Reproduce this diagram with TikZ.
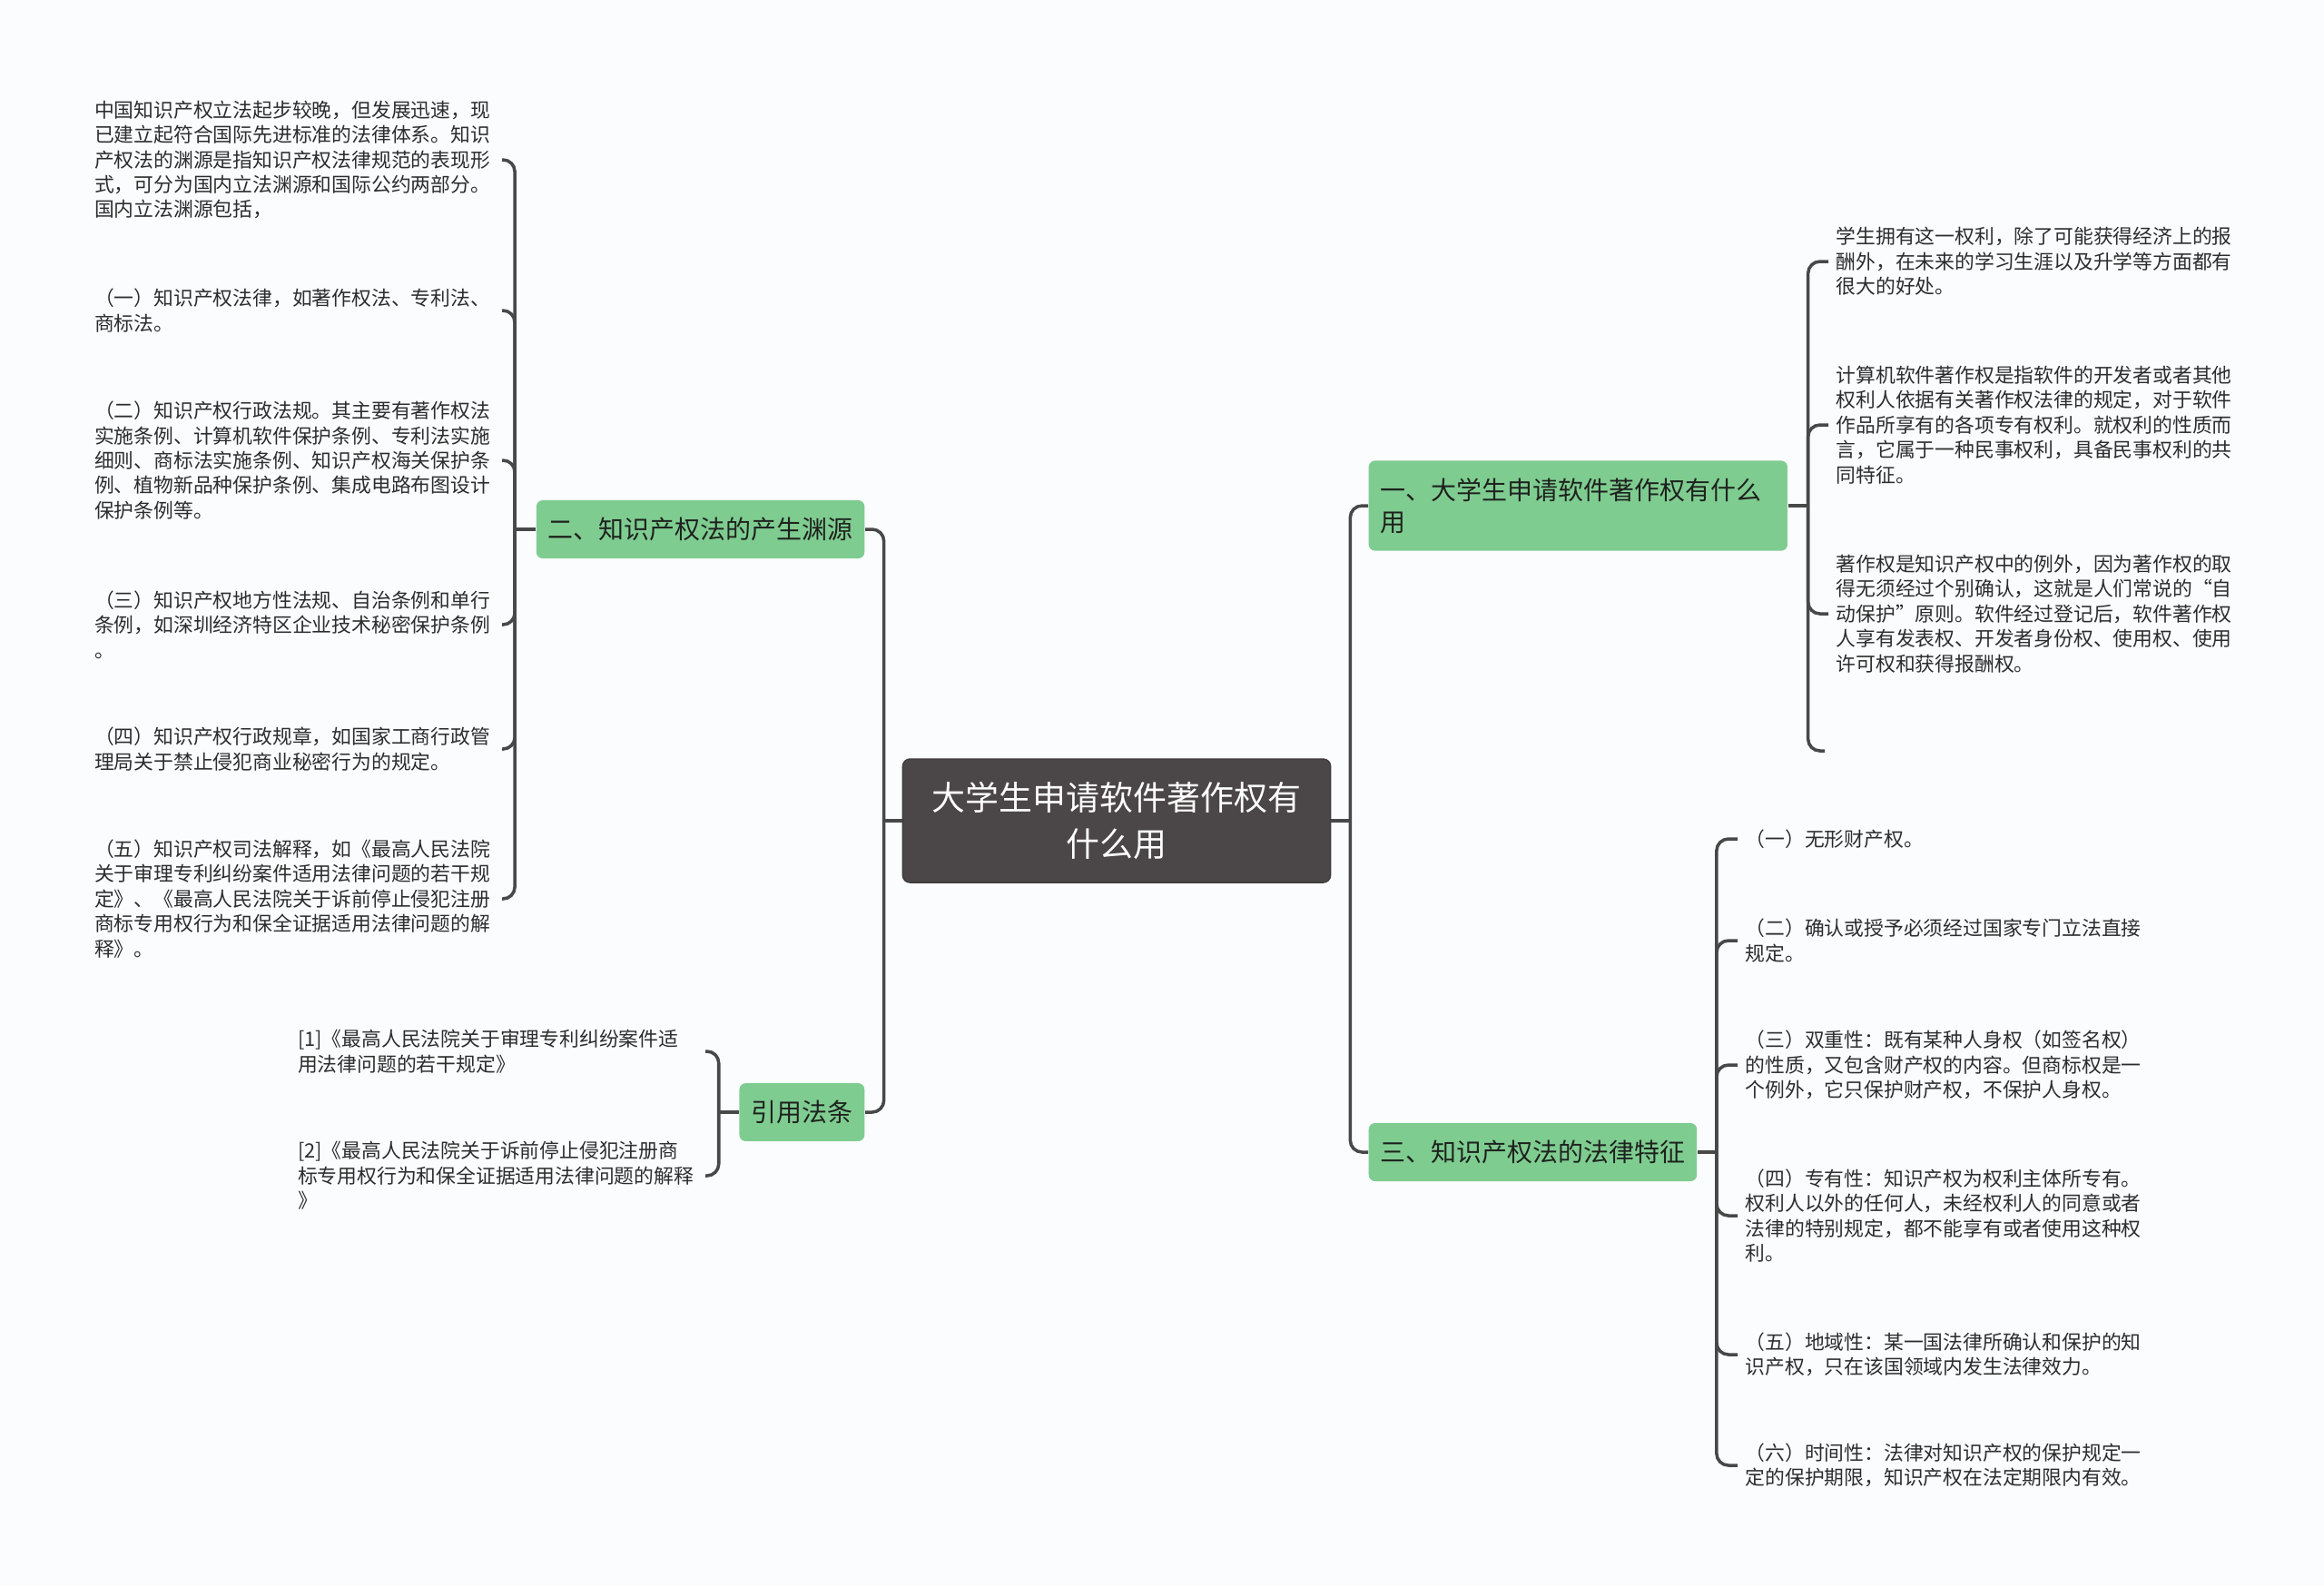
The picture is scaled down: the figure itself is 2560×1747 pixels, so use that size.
\documentclass[tikz,border=0pt]{standalone}
\usepackage{fontspec}
\setmainfont{Noto Sans CJK SC}
\definecolor{rootGray}{RGB}{75,70,71}
\definecolor{topicGreen}{RGB}{127,204,145}
\definecolor{topicText}{RGB}{30,34,30}
\definecolor{leafInk}{RGB}{45,45,45}
\definecolor{lineGray}{RGB}{72,72,72}
\definecolor{paperTint}{RGB}{250,252,254}

\begin{document}
\begin{tikzpicture}[
    x=0.01cm, y=-0.01cm,
    % Connector from a node to its bracket spine
    bracketline/.style={draw=lineGray, line width=1pt,
                        rounded corners=0.13cm},
    % Central topic
    rootbox/.style={
        rectangle, rounded corners=0.08cm,
        draw=rootGray!85!black, fill=rootGray, line width=0.4pt,
        text=white, align=center,
        minimum width=4.71cm, minimum height=1.36cm,
        font=\fontsize{10.5}{14.7}\selectfont, inner sep=0pt
    },
    % Green first-level topic
    topicbox/.style={
        rectangle, rounded corners=0.07cm,
        fill=topicGreen, text=topicText,
        font=\fontsize{7.95}{10}\selectfont,
        inner xsep=0.13cm, inner ysep=0.19cm
    },
    % Plain text block at the end of a bracket
    leaftext/.style={
        text width=4.4cm, align=left, text=leafInk,
        font=\fontsize{6.2}{7.8}\selectfont,
        inner xsep=0.08cm, inner ysep=0.02cm
    }
]
\fill[paperTint] (0,0) rectangle (2560,1747);
% ── CENTRE ────────────────────────────────────────────────────
\node[rootbox] (root) at (1230,904) {大学生申请软件著作权有\\什么用};
% ── LEFT SIDE: topics ─────────────────────────────────────────
\node[topicbox, anchor=east] (src)  at (953,583)  {二、知识产权法的产生渊源};
\node[topicbox, anchor=east] (cite) at (953,1225) {引用法条};
% ── RIGHT SIDE: topics ────────────────────────────────────────
\node[topicbox, anchor=west, text width=4.35cm, align=left]
    (use) at (1507,557) {一、大学生申请软件著作权有什么\\用};
\node[topicbox, anchor=west] (trait) at (1507,1269) {三、知识产权法的法律特征};
% ── LEFT LEAVES: sources ──────────────────────────────────────
\node[leaftext, anchor=east] (srcA) at (553,176)
    {中国知识产权立法起步较晚，但发展迅速，现\\已建立起符合国际先进标准的法律体系。知识\\产权法的渊源是指知识产权法律规范的表现形\\式，可分为国内立法渊源和国际公约两部分。\\国内立法渊源包括，};
\node[leaftext, anchor=east] (srcB) at (553,342)
    {（一）知识产权法律，如著作权法、专利法、\\商标法。};
\node[leaftext, anchor=east] (srcC) at (553,507)
    {（二）知识产权行政法规。其主要有著作权法\\实施条例、计算机软件保护条例、专利法实施\\细则、商标法实施条例、知识产权海关保护条\\例、植物新品种保护条例、集成电路布图设计\\保护条例等。};
\node[leaftext, anchor=east] (srcD) at (553,688)
    {（三）知识产权地方性法规、自治条例和单行\\条例，如深圳经济特区企业技术秘密保护条例\\。};
\node[leaftext, anchor=east] (srcE) at (553,825)
    {（四）知识产权行政规章，如国家工商行政管\\理局关于禁止侵犯商业秘密行为的规定。};
\node[leaftext, anchor=east] (srcF) at (553,990)
    {（五）知识产权司法解释，如《最高人民法院\\关于审理专利纠纷案件适用法律问题的若干规\\定》、《最高人民法院关于诉前停止侵犯注册\\商标专用权行为和保全证据适用法律问题的解\\释》。};
% ── LEFT LEAVES: cited laws ───────────────────────────────────
\node[leaftext, anchor=east] (citeA) at (777,1158)
    {[1]《最高人民法院关于审理专利纠纷案件适\\用法律问题的若干规定》};
\node[leaftext, anchor=east] (citeB) at (777,1295)
    {[2]《最高人民法院关于诉前停止侵犯注册商\\标专用权行为和保全证据适用法律问题的解释\\》};
% ── RIGHT LEAVES: use ─────────────────────────────────────────
\node[leaftext, anchor=west] (useA) at (2014,288)
    {学生拥有这一权利，除了可能获得经济上的报\\酬外，在未来的学习生涯以及升学等方面都有\\很大的好处。};
\node[leaftext, anchor=west] (useB) at (2014,468)
    {计算机软件著作权是指软件的开发者或者其他\\权利人依据有关著作权法律的规定，对于软件\\作品所享有的各项专有权利。就权利的性质而\\言，它属于一种民事权利，具备民事权利的共\\同特征。};
\node[leaftext, anchor=west] (useC) at (2014,676)
    {著作权是知识产权中的例外，因为著作权的取\\得无须经过个别确认，这就是人们常说的“自\\动保护”原则。软件经过登记后，软件著作权\\人享有发表权、开发者身份权、使用权、使用\\许可权和获得报酬权。};
\coordinate (useEnd) at (2010,827);
% ── RIGHT LEAVES: traits ──────────────────────────────────────
\node[leaftext, anchor=west] (traitA) at (1914,924)
    {（一）无形财产权。};
\node[leaftext, anchor=west] (traitB) at (1914,1036)
    {（二）确认或授予必须经过国家专门立法直接\\规定。};
\node[leaftext, anchor=west] (traitC) at (1914,1173)
    {（三）双重性：既有某种人身权（如签名权）\\的性质，又包含财产权的内容。但商标权是一\\个例外，它只保护财产权，不保护人身权。};
\node[leaftext, anchor=west] (traitD) at (1914,1339)
    {（四）专有性：知识产权为权利主体所专有。\\权利人以外的任何人，未经权利人的同意或者\\法律的特别规定，都不能享有或者使用这种权\\利。};
\node[leaftext, anchor=west] (traitE) at (1914,1492)
    {（五）地域性：某一国法律所确认和保护的知\\识产权，只在该国领域内发生法律效力。};
\node[leaftext, anchor=west] (traitF) at (1914,1614)
    {（六）时间性：法律对知识产权的保护规定一\\定的保护期限，知识产权在法定期限内有效。};
% ── CONNECTORS: centre to topics ──────────────────────────────
\draw[bracketline] (root.west) -- ++(-20,0) coordinate (rootW);
\draw[bracketline] (root.east) -- ++(21,0) coordinate (rootE);
\draw[bracketline] (rootW) |- (src.east);
\draw[bracketline] (rootW) |- (cite.east);
\draw[bracketline] (rootE) |- (use.west);
\draw[bracketline] (rootE) |- (trait.west);
% ── CONNECTORS: topics to leaves ──────────────────────────────
\draw[bracketline] (src.west) -- ++(-23,0) coordinate (srcS);
\foreach \leaf in {srcA,srcB,srcC,srcD,srcE,srcF}
    \draw[bracketline] (srcS) |- (\leaf.east);
\draw[bracketline] (cite.west) -- ++(-22,0) coordinate (citeS);
\foreach \leaf in {citeA,citeB}
    \draw[bracketline] (citeS) |- (\leaf.east);
\draw[bracketline] (use.east) -- ++(22,0) coordinate (useS);
\foreach \leaf in {useA,useB,useC,useEnd}
    \draw[bracketline] (useS) |- (\leaf.west);
\draw[bracketline] (trait.east) -- ++(21,0) coordinate (traitS);
\foreach \leaf in {traitA,traitB,traitC,traitD,traitE,traitF}
    \draw[bracketline] (traitS) |- (\leaf.west);
\end{tikzpicture}
\end{document}
